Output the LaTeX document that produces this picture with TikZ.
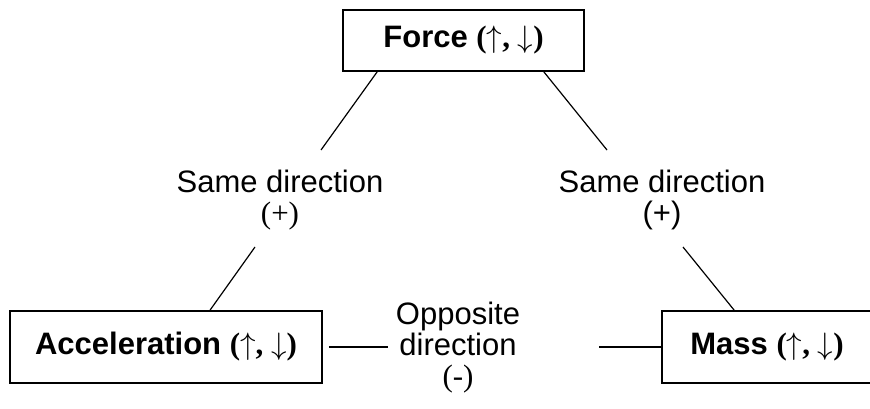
\documentclass[tikz,border=0pt]{standalone}
\usepackage{fix-cm}
\usepackage{fontspec}
\setmainfont{Liberation Sans}
\newfontfamily\timesfont{Liberation Serif}
\usetikzlibrary{positioning,calc}

\newcommand{\updown}{{\timesfont\bfseries($\uparrow$, $\downarrow$)}}

\tikzset{
  qtybox/.style={draw,line width=1.6pt,inner sep=0pt,
    font=\fontsize{31}{36}\selectfont},
  rellabel/.style={align=center,inner sep=0pt,
    font=\fontsize{31}{31}\selectfont},
  link/.style={line width=1.2pt}
}

\begin{document}
\begin{tikzpicture}[x=1pt,y=-1pt]
  \useasboundingbox (0,0) rectangle (870,409);
  % Quantities
  \node[qtybox,minimum width=241pt,minimum height=61pt] (force) at (463.5,40.5)
    {\textbf{Force} \updown};
  \node[qtybox,minimum width=312pt,minimum height=72pt] (accel) at (166,347)
    {\textbf{Acceleration} \updown};
  \node[qtybox,minimum width=210pt,minimum height=72pt] (mass) at (767,347)
    {\textbf{Mass} \updown};
  % Relations
  \node[rellabel] (sameL) at (280,200) {Same direction\\{\timesfont(+)}};
  \node[rellabel] (sameR) at (662,200) {Same direction\\(+)};
  \node[rellabel] (opp) at (458,348) {Opposite\\direction\\{\timesfont(-)}};
  % Free ends of the links
  \coordinate (fl) at (321,150);
  \coordinate (fr) at (607,150);
  \coordinate (al) at (255,247);
  \coordinate (mr) at (683,247);
  \coordinate (ol) at (388,347);
  \coordinate (or) at (599,347);
  % Links
  \draw[link] ([xshift=35pt]force.south west) -- (fl);
  \draw[link] ([xshift=-41pt]force.south east) -- (fr);
  \draw[link] (al) -- ([xshift=44pt]accel.north);
  \draw[link] (mr) -- ([xshift=73pt]mass.north west);
  \draw[link] ([xshift=6pt]accel.east) -- (ol);
  \draw[link] (or) -- (mass.west);
\end{tikzpicture}
\end{document}
